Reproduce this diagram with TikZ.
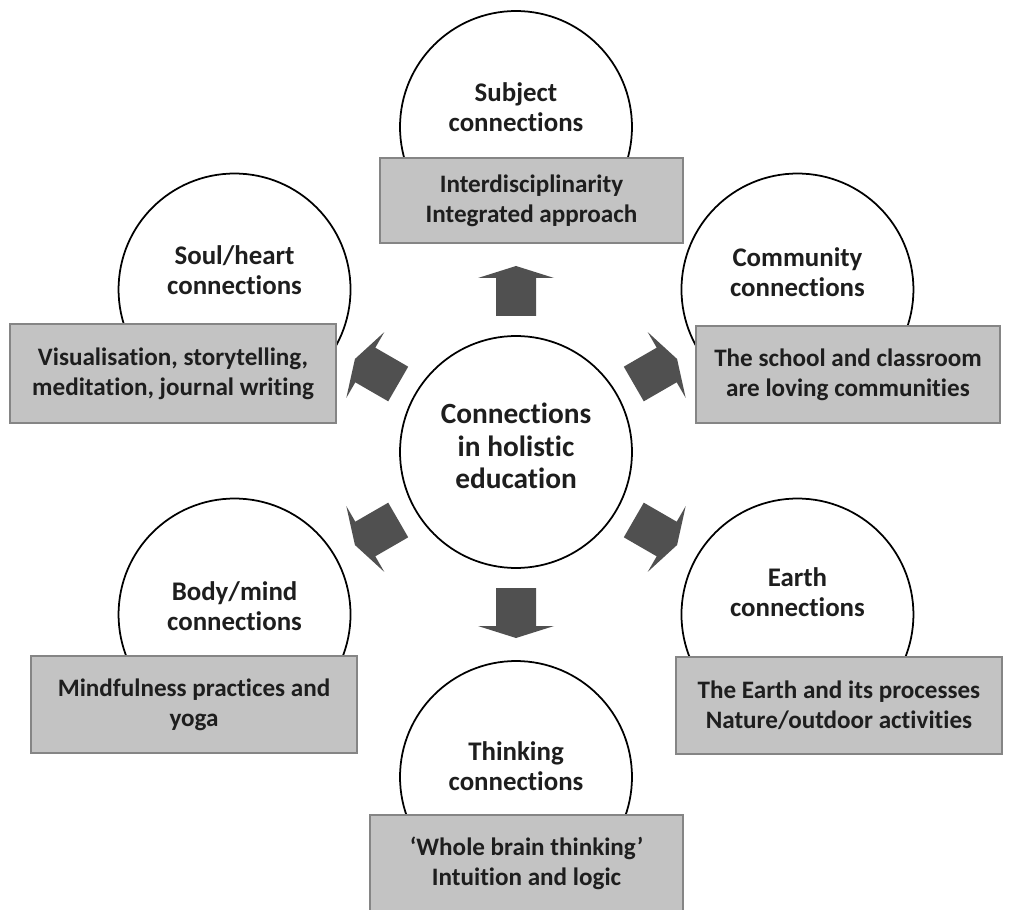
\documentclass[tikz,border=0pt]{standalone}
\usepackage{fontspec}
\setmainfont{Carlito}[Ligatures={NoCommon}]
\usetikzlibrary{positioning,calc}

\definecolor{boxgray}{HTML}{C3C3C3}
\definecolor{boxline}{HTML}{858585}
\definecolor{arrowgray}{HTML}{505050}
\definecolor{inkgray}{HTML}{1E1E1E}

\begin{document}
\begin{tikzpicture}[
    x=0.02cm, y=0.02cm,
    hub/.style={draw, circle, line width=1pt, minimum size=4.64cm,
      inner sep=0pt, fill=white},
    topic/.style={hub},
    hubtext/.style={align=center, text=inkgray,
      font=\bfseries\fontsize{16.7}{18.4}\selectfont},
    topictext/.style={align=center, text=inkgray,
      font=\bfseries\fontsize{15.3}{17}\selectfont},
    practice/.style={draw=boxline, fill=boxgray, line width=1pt,
      align=center, inner sep=0pt, text=inkgray, minimum height=1.94cm,
      font=\bfseries\fontsize{14.3}{17}\selectfont},
    blockarrow/.style={fill=arrowgray},
  ]
  \useasboundingbox (-516,-457) rectangle (494,452);
  \clip (-516,-457) rectangle (494,452);

  % Hub
  \node[hub] (hub) at (0,0) {};
  \node[hubtext] (hubtxt) at ([shift={(0,6)}]hub.center)
    {Connections\\in holistic\\education};

  % Block arrows out of the hub
  \foreach \ang in {30,90,...,330}
    \fill[blockarrow, rotate=\ang] (136,-20) -- (174,-20) -- (174,-38)
      -- (186,0) -- (174,38) -- (174,20) -- (136,20) -- cycle;

  % Topic circles
  \node[topic] (subject) at (90:325) {};
  \node[topic] (soul) at (150:325) {};
  \node[topic] (community) at (30:325) {};
  \node[topic] (earth) at (330:325) {};
  \node[topic] (body) at (210:325) {};
  \node[topic] (thinking) at (270:325) {};

  % Practice boxes
  \node[practice, minimum width=6.06cm, minimum height=1.70cm] (subjectbox)
    at ([shift={(15.5,-73.5)}]subject.center)
    {Interdisciplinarity\\Integrated approach};
  \node[practice, minimum width=6.52cm, minimum height=1.98cm] (soulbox)
    at ([shift={(-61.5,-84)}]soul.center)
    {Visualisation, storytelling,\\meditation, journal writing};
  \node[practice, minimum width=6.08cm] (communitybox)
    at ([shift={(50.5,-85)}]community.center)
    {The school and classroom\\are loving communities};
  \node[practice, minimum width=6.52cm] (earthbox)
    at ([shift={(41.5,-91)}]earth.center)
    {The Earth and its processes\\Nature/outdoor activities};
  \node[practice, minimum width=6.52cm] (bodybox)
    at ([shift={(-40.5,-90)}]body.center)
    {Mindfulness practices and\\yoga};
  \node[practice, minimum width=6.26cm] (thinkingbox)
    at ([shift={(10.5,-86.5)}]thinking.center)
    {‘Whole brain thinking’\\Intuition and logic};

  % Topic labels
  \node[topictext] at ([shift={(0,20)}]subject.center) {Subject\\connections};
  \node[topictext] at ([shift={(0,19)}]soul.center) {Soul/heart\\connections};
  \node[topictext] at ([shift={(0,17)}]community.center) {Community\\connections};
  \node[topictext] at ([shift={(0,22)}]earth.center) {Earth\\connections};
  \node[topictext] at ([shift={(0,8)}]body.center) {Body/mind\\connections};
  \node[topictext] at ([shift={(0,11)}]thinking.center) {Thinking\\connections};
\end{tikzpicture}
\end{document}
